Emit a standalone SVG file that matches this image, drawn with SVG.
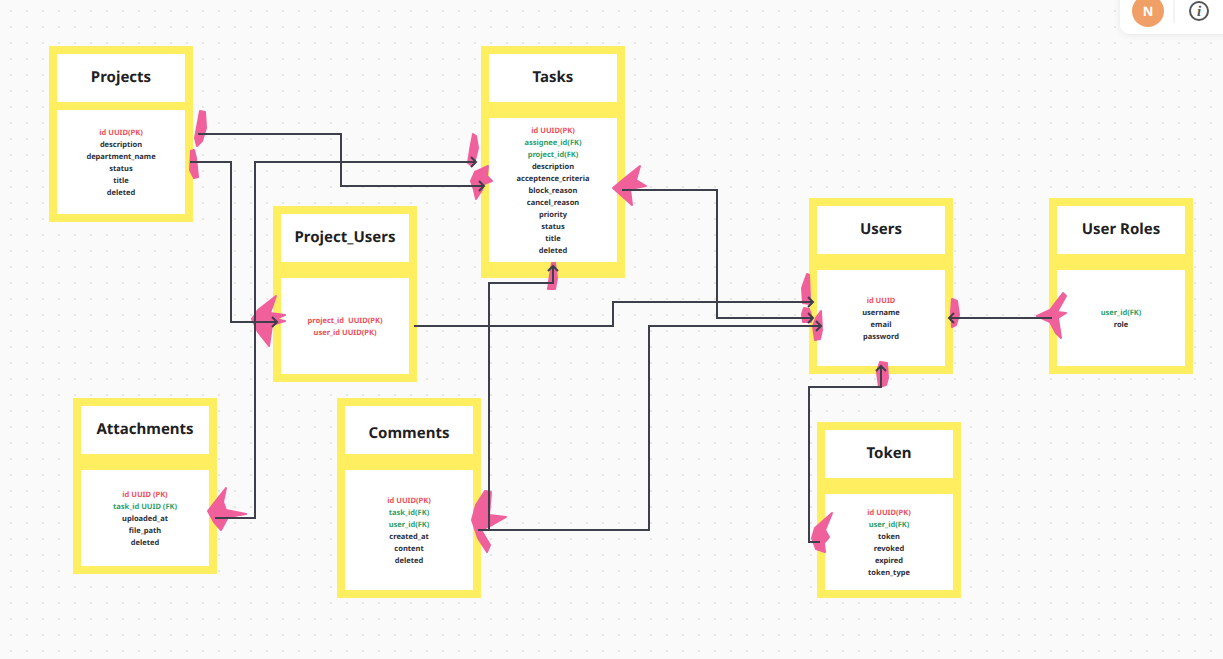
<svg xmlns="http://www.w3.org/2000/svg" width="1223" height="659" viewBox="0 0 1223 659">
<style>
text{text-rendering:geometricPrecision}
.frame{fill:#ffee5f}
.in{fill:#fff}
.t{font:700 15px "Noto Sans","Open Sans",sans-serif;fill:#1f1f24;text-anchor:middle}
.b{font:700 7.5px "Noto Sans","Open Sans",sans-serif;text-anchor:middle;fill:#2e2f38}
.r{fill:#ee4f5c}
.g{fill:#2f9e6b}
.c{fill:none;stroke:#3d3f4b;stroke-width:2}
.s{fill:#f0609b;stroke:#f0609b;stroke-width:2;stroke-linejoin:round}
</style>
<defs>
<pattern id="dots" width="16" height="16" patternUnits="userSpaceOnUse" x="3" y="3">
<rect x="7" y="7" width="2" height="2" fill="#e6e6e6"/>
</pattern>
<marker id="arr" markerUnits="userSpaceOnUse" markerWidth="12" markerHeight="12" refX="8" refY="6" orient="auto">
<path d="M3 1 L8 6 L3 11" fill="none" stroke="#3d3f4b" stroke-width="2"/>
</marker>
<filter id="soft" x="-20%" y="-20%" width="140%" height="160%"><feDropShadow dx="0" dy="1" stdDeviation="3" flood-color="#000" flood-opacity="0.08"/></filter>
</defs>
<rect width="1223" height="659" fill="#fafafa"/>
<rect width="1223" height="659" fill="url(#dots)"/>

<g id="node-projects"><rect class="frame" x="49" y="46" width="144" height="176"/><rect class="in" x="57" y="54" width="128" height="48"/><rect class="in" x="57" y="110" width="128" height="104"/>
<text class="t" x="121" y="82">Projects</text>
<text class="b r" x="121" y="135">id UUID(PK)</text><text class="b" x="121" y="147">description</text><text class="b" x="121" y="159">department_name</text><text class="b" x="121" y="171">status</text><text class="b" x="121" y="183">title</text><text class="b" x="121" y="195">deleted</text></g>

<g id="node-tasks"><rect class="frame" x="481" y="46" width="144" height="232"/><rect class="in" x="489" y="54" width="128" height="48"/><rect class="in" x="489" y="118" width="128" height="144"/>
<text class="t" x="553" y="82">Tasks</text>
<text class="b r" x="553" y="133">id UUID(PK)</text><text class="b g" x="553" y="145">assignee_id(FK)</text><text class="b g" x="553" y="157">project_id(FK)</text><text class="b" x="553" y="169">description</text><text class="b" x="553" y="181">acceptence_criteria</text><text class="b" x="553" y="193">block_reason</text><text class="b" x="553" y="205">cancel_reason</text><text class="b" x="553" y="217">priority</text><text class="b" x="553" y="229">status</text><text class="b" x="553" y="241">title</text><text class="b" x="553" y="253">deleted</text></g>

<g id="node-project-users"><rect class="frame" x="273" y="206" width="144" height="176"/><rect class="in" x="281" y="214" width="128" height="48"/><rect class="in" x="281" y="278" width="128" height="96"/>
<text class="t" x="345" y="242">Project_Users</text>
<text class="b r" x="345" y="323">project_id&#160; UUID(PK)</text><text class="b r" x="345" y="335">user_id UUID(PK)</text></g>

<g id="node-attachments"><rect class="frame" x="73" y="398" width="144" height="176"/><rect class="in" x="81" y="406" width="128" height="48"/><rect class="in" x="81" y="470" width="128" height="96"/>
<text class="t" x="145" y="434">Attachments</text>
<text class="b r" x="145" y="497">id UUID (PK)</text><text class="b g" x="145" y="509">task_id UUID (FK)</text><text class="b" x="145" y="521">uploaded_at</text><text class="b" x="145" y="533">file_path</text><text class="b" x="145" y="545">deleted</text></g>

<g id="node-comments"><rect class="frame" x="337" y="398" width="144" height="200"/><rect class="in" x="345" y="406" width="128" height="48"/><rect class="in" x="345" y="470" width="128" height="120"/>
<text class="t" x="409" y="438">Comments</text>
<text class="b r" x="409" y="503">id UUID(PK)</text><text class="b g" x="409" y="515">task_id(FK)</text><text class="b g" x="409" y="527">user_id(FK)</text><text class="b" x="409" y="539">created_at</text><text class="b" x="409" y="551">content</text><text class="b" x="409" y="563">deleted</text></g>

<g id="node-users"><rect class="frame" x="809" y="198" width="144" height="176"/><rect class="in" x="817" y="206" width="128" height="48"/><rect class="in" x="817" y="270" width="128" height="96"/>
<text class="t" x="881" y="234">Users</text>
<text class="b r" x="881" y="303">id UUID</text><text class="b" x="881" y="315">username</text><text class="b" x="881" y="327">email</text><text class="b" x="881" y="339">password</text></g>

<g id="node-user-roles"><rect class="frame" x="1049" y="198" width="144" height="176"/><rect class="in" x="1057" y="206" width="128" height="48"/><rect class="in" x="1057" y="270" width="128" height="96"/>
<text class="t" x="1121" y="234">User Roles</text>
<text class="b g" x="1121" y="315">user_id(FK)</text><text class="b" x="1121" y="327">role</text></g>

<g id="node-token"><rect class="frame" x="817" y="422" width="144" height="176"/><rect class="in" x="825" y="430" width="128" height="48"/><rect class="in" x="825" y="494" width="128" height="96"/>
<text class="t" x="889" y="458">Token</text>
<text class="b r" x="889" y="515">id UUID(PK)</text><text class="b g" x="889" y="527">user_id(FK)</text><text class="b" x="889" y="539">token</text><text class="b" x="889" y="551">revoked</text><text class="b" x="889" y="563">expired</text><text class="b" x="889" y="575">token_type</text></g>

<g id="scribbles">
<path class="s" d="M200 111 L205 112 L206 128 L202 141 L197 146 L195 138 L198 122Z"/>
<path class="s" d="M191 151 L194 150 L196 158 L198 177 L194 178 L190 170Z"/>
<path class="s" d="M473 134 L476 136 L478 148 L475 160 L472 166 L468 163 L470 150Z"/>
<path class="s" d="M488 166 L487 176 L492 181 L484 184 L482 190 L476 199 L474 190 L471 181 L475 172Z"/>
<path class="s" d="M640 166 L636 180 L646 186 L630 189 L632 205 L622 196 L613 188 L625 178Z"/>
<path class="s" d="M552 263 L555 263 L557 278 L555 289 L548 289 L550 275Z"/>
<path class="s" d="M276 296 L270 313 L285 315 L275 319 L285 321 L272 325 L269 346 L258 332 L252 319 L258 310Z"/>
<path class="s" d="M226 488 L223 502 L226 510 L246 514 L228 517 L221 530 L214 522 L208 511 L218 498Z"/>
<path class="s" d="M485 491 L491 492 L489 515 L506 517 L492 525 L481 530 L490 545 L487 552 L478 538 L472 520 L476 505Z"/>
<path class="s" d="M807 274 L809 275 L810 298 L810 304 L803 303 L802 288Z"/>
<path class="s" d="M804 308 L809 309 L812 318 L811 322 L803 322 L802 314Z"/>
<path class="s" d="M821 311 L822 330 L820 339 L815 340 L813 326 L816 318Z"/>
<path class="s" d="M880 362 L887 363 L888 378 L886 385 L879 387 L877 372Z"/>
<path class="s" d="M952 299 L957 301 L959 315 L956 325 L952 327 L951 312Z"/>
<path class="s" d="M1063 293 L1066 296 L1057 312 L1066 313 L1058 318 L1061 338 L1056 333 L1050 322 L1037 316 L1050 310Z"/>
<path class="s" d="M832 513 L825 530 L829 537 L824 543 L825 552 L816 549 L812 538 L815 528Z"/>
</g>

<g id="connectors">
<path class="c" marker-end="url(#arr)" d="M198 134H341V186H484"/>
<path class="c" marker-end="url(#arr)" d="M190 162H231V322H277"/>
<path class="c" marker-end="url(#arr)" d="M215 518H255V162H476"/>
<path class="c" marker-end="url(#arr)" d="M622 190H717V318H813"/>
<path class="c" marker-end="url(#arr)" d="M414 326H613V302H813"/>
<path class="c" marker-end="url(#arr)" d="M478 530H649V326H821"/>
<path class="c" marker-end="url(#arr)" d="M489 530V283H553V266"/>
<path class="c" marker-end="url(#arr)" d="M1052 318H949"/>
<path class="c" marker-end="url(#arr)" d="M820 542H809V387H881V366"/>
</g>

<g id="toolbar">
<rect x="1120" y="-20" width="120" height="54" rx="10" fill="#fff" filter="url(#soft)"/>
<circle cx="1148" cy="11" r="16" fill="#f0a066"/>
<text x="1148" y="16" font-family="'Noto Sans',sans-serif" font-size="13" font-weight="700" fill="#fff" text-anchor="middle">N</text>
<line x1="1174" y1="0" x2="1174" y2="23" stroke="#e6e6e6"/>
<circle cx="1199" cy="11" r="9" fill="none" stroke="#555" stroke-width="2"/>
<text x="1199" y="16" font-family="'Liberation Serif',serif" font-size="15" font-weight="700" font-style="italic" fill="#555" text-anchor="middle">i</text>
</g>
</svg>
